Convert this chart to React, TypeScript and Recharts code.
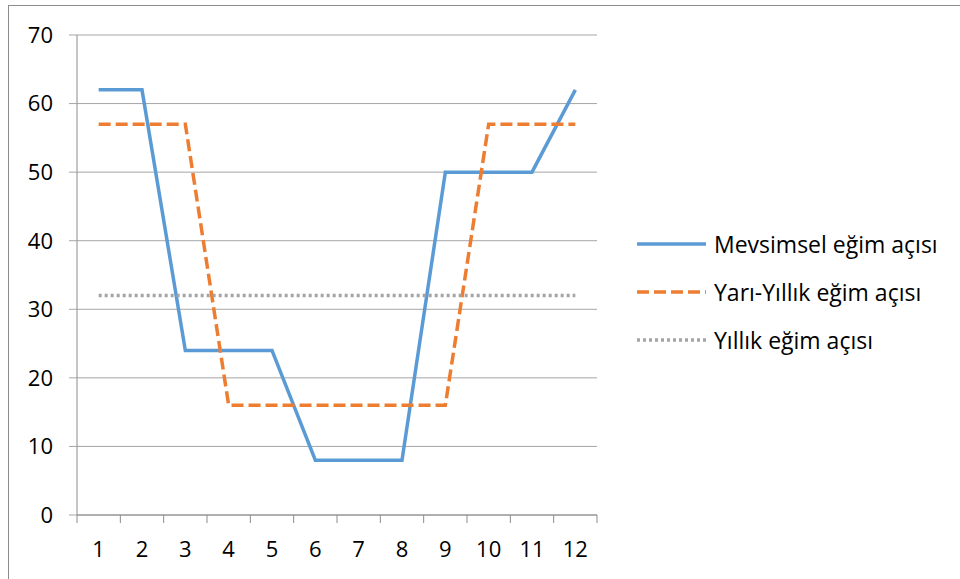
import { CartesianGrid, Legend, Line, LineChart, XAxis, YAxis } from 'recharts'

const months = [1, 2, 3, 4, 5, 6, 7, 8, 9, 10, 11, 12]
const mevsimsel = [62, 62, 24, 24, 24, 8, 8, 8, 50, 50, 50, 62]
const yariYillik = [57, 57, 57, 16, 16, 16, 16, 16, 16, 57, 57, 57]
const yillik = [32, 32, 32, 32, 32, 32, 32, 32, 32, 32, 32, 32]
const yTicks = [0, 10, 20, 30, 40, 50, 60, 70]

const series = [
  { key: 'mevsimsel', name: 'Mevsimsel eğim açısı', color: '#5B9BD5', dash: undefined },
  { key: 'yariYillik', name: 'Yarı-Yıllık eğim açısı', color: '#ED7D31', dash: '12 5' },
  { key: 'yillik', name: 'Yıllık eğim açısı', color: '#A5A5A5', dash: '3 3' },
]

const data = months.map((m, i) => ({
  month: m,
  mevsimsel: mevsimsel[i],
  yariYillik: yariYillik[i],
  yillik: yillik[i],
}))

const FONT = '"Open Sans", "Noto Sans", sans-serif'
const FS = 22
const AXIS = '#8C8C8C'
const GRID = '#A6A6A6'
const PLOT_W = 520
const HALF = PLOT_W / months.length / 2

// Excel koyar tik çizgilerini kategoriler arasına, etiketleri ortaya
const MonthTick = (props: any) => {
  const { x, y, payload, index } = props
  return (
    <g>
      <line x1={x - HALF} x2={x - HALF} y1={y} y2={y + 8} stroke={AXIS} />
      {index === months.length - 1 && <line x1={x + HALF} x2={x + HALF} y1={y} y2={y + 8} stroke={AXIS} />}
      <text x={x} y={y + 42} textAnchor="middle" fill="#000" fontSize={FS} fontFamily={FONT}>
        {payload.value}
      </text>
    </g>
  )
}

const LegendBox = () => (
  <div style={{ fontFamily: FONT, fontSize: 23, color: '#000' }}>
    {series.map((s) => (
      <div key={s.key} style={{ display: 'flex', alignItems: 'center', height: 48 }}>
        <svg width={72} height={10}>
          <line x1={1} x2={70} y1={5} y2={5} stroke={s.color} strokeWidth={3.5} strokeDasharray={s.dash} />
        </svg>
        <span style={{ marginLeft: 6, whiteSpace: 'nowrap' }}>{s.name}</span>
      </div>
    ))}
  </div>
)

export default function App() {
  return (
    <div style={{ position: 'absolute', left: 0, top: 0, width: 960, height: 579, overflow: 'hidden', background: '#fff' }}>
      <div style={{ position: 'absolute', left: 8, top: 5, width: 1000, height: 620, border: `1px solid ${AXIS}` }} />
      <LineChart
        width={960}
        height={579}
        data={data}
        margin={{ top: 35, right: 363, bottom: 0, left: 0 }}
        style={{ fontFamily: FONT }}
      >
        <CartesianGrid horizontal vertical={false} stroke={GRID} />
        <XAxis
          dataKey="month"
          type="number"
          domain={[0.5, 12.5]}
          ticks={months}
          height={64}
          axisLine={{ stroke: AXIS }}
          tickLine={false}
          tickSize={0}
          tickMargin={0}
          tick={<MonthTick />}
          interval={0}
        />
        <YAxis
          domain={[0, 70]}
          ticks={yTicks}
          width={77}
          axisLine={{ stroke: AXIS }}
          tickLine={{ stroke: GRID }}
          tickSize={8}
          tickMargin={16}
          tick={{ fill: '#000', fontSize: FS, fontFamily: FONT }}
          interval={0}
        />
        {series.map((s) => (
          <Line
            key={s.key}
            type="linear"
            dataKey={s.key}
            name={s.name}
            stroke={s.color}
            strokeWidth={3.5}
            strokeDasharray={s.dash}
            dot={false}
            activeDot={false}
            isAnimationActive={false}
          />
        ))}
        <Legend
          layout="horizontal"
          verticalAlign="middle"
          content={<LegendBox />}
          wrapperStyle={{ left: 636, top: 220, width: 324 }}
        />
      </LineChart>
    </div>
  )
}
